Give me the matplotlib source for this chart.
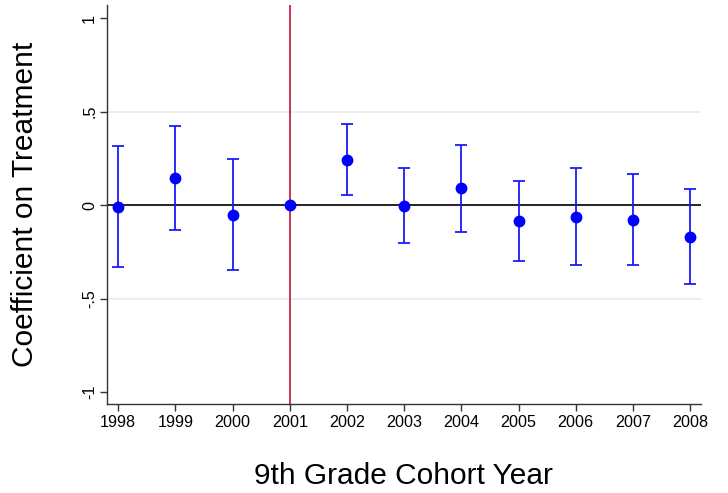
import matplotlib
matplotlib.use("Agg")
import matplotlib.pyplot as plt

plt.rcParams['font.family'] = ['Liberation Sans', 'DejaVu Sans']

years = [1998, 1999, 2000, 2001, 2002, 2003, 2004, 2005, 2006, 2007, 2008]
coef = [-0.011, 0.146, -0.052, 0.0, 0.242, -0.002, 0.089, -0.086, -0.063, -0.077, -0.168]
ci_upper = [0.317, 0.424, 0.248, 0.0, 0.433, 0.196, 0.324, 0.130, 0.196, 0.164, 0.087]
ci_lower = [-0.333, -0.132, -0.346, 0.0, 0.052, -0.200, -0.145, -0.301, -0.321, -0.318, -0.421]
ytick_vals = [-1, -0.5, 0, 0.5, 1]
ytick_labels = ["-1", "-.5", "0", ".5", "1"]

fig = plt.figure(figsize=(7.28, 4.93), dpi=100)
ax = fig.add_axes([0.1466, 0.1805, 0.8164, 0.8095])

# light horizontal grid
for v in [-0.5, 0.5]:
    ax.axhline(v, color='#e6eeef', lw=1.2, zorder=0)
ax.axhline(0, color='black', lw=1.2, zorder=1)
ax.axvline(2001, color='#c0123a', lw=1.2, zorder=1)

err_low = [c - l for c, l in zip(coef, ci_lower)]
err_high = [u - c for c, u in zip(coef, ci_upper)]
ax.errorbar(years, coef, yerr=[err_low, err_high], fmt='o', color='#0000ff',
            ecolor='#1a1aff', elinewidth=1.3, capsize=4.5, capthick=1.3,
            markersize=7.5, zorder=3)

ax.set_xlim(1997.80, 2008.19)
ax.set_ylim(-1.063, 1.07)
ax.set_xticks(years)
ax.set_xticklabels([str(y) for y in years], fontsize=11.6)
ax.set_yticks(ytick_vals)
ax.set_yticklabels(ytick_labels, rotation=90, va='center', fontsize=11.6)

for s in ['top', 'right']:
    ax.spines[s].set_visible(False)
for s in ['left', 'bottom']:
    ax.spines[s].set_color('#333333')
    ax.spines[s].set_linewidth(1.0)
ax.tick_params(direction='out', length=5, width=1.0, color='#333333', pad=3)
ax.tick_params(axis='y', pad=2)

ax.set_ylabel("Coefficient on Treatment", fontsize=21.5, labelpad=31)
ax.set_xlabel("9th Grade Cohort Year", fontsize=21.5, labelpad=23)

fig.savefig("out.png", dpi=100)
